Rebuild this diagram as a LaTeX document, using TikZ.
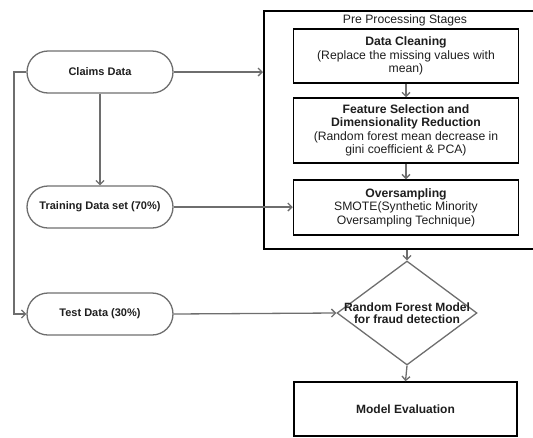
\documentclass[tikz,border=0pt]{standalone}
\usepackage{fontspec}
\setmainfont{Liberation Sans}
\usetikzlibrary{shapes.geometric,arrows.meta}
\definecolor{ln}{HTML}{6E6E6E}
\definecolor{tx}{HTML}{1E1E1E}
\begin{document}
\begin{tikzpicture}[x=1pt,y=-1pt,
  stad/.style={draw=ln, line width=1.3pt, rounded corners=21pt, minimum width=146pt, minimum height=42pt, inner sep=0pt, font=\fontsize{11}{12}\selectfont\bfseries, text=tx},
  pbox/.style={draw=black, line width=1.5pt, minimum width=225pt, inner sep=0pt, align=center, font=\fontsize{12.2}{13.5}\selectfont, text=tx},
  dia/.style={draw=ln, line width=1.3pt, diamond, minimum width=140pt, minimum height=104pt, inner sep=0pt},
  arr/.style={draw=ln, line width=1.3pt, -{Straight Barb[length=4pt,width=8pt,line width=1.3pt]}}]
\useasboundingbox (0,0) rectangle (533,437);
\clip (0,0) rectangle (533,437);
% outer pre-processing box (right side falls outside the picture)
\node[draw=black, line width=1.5pt, minimum width=286pt, minimum height=238pt, inner sep=0pt, anchor=north west] (pre) at (263,10) {};
\node[font=\fontsize{12.2}{13.5}\selectfont, text=tx, inner sep=0pt] (pretitle) at (405,20) {Pre Processing Stages};
% left column
\node[stad] (claims) at (100,72) {Claims Data};
\node[stad] (train) at (100,207) {Training Data set (70\%)};
\node[stad] (test) at (100,314) {Test Data (30\%)};
% boxes
\node[pbox, minimum height=54pt] (clean) at (406,56) {\textbf{Data Cleaning}\\(Replace the missing values with\\mean)};
\node[pbox, minimum height=65pt] (feat) at (406,130.5) {\textbf{Feature Selection and}\\\textbf{Dimensionality Reduction}\\(Random forest mean decrease in\\gini coefficient \& PCA)};
\node[pbox, minimum height=55pt] (over) at (406,207.5) {\textbf{Oversampling}\\SMOTE(Synthetic Minority\\Oversampling Technique)};
\node[dia] (rf) at (407,313) {};
\node[align=center, inner sep=0pt, font=\fontsize{12}{12}\selectfont\bfseries, text=tx] (rflabel) at (407,313) {Random Forest Model\\for fraud detection};
\node[pbox, minimum width=223pt, minimum height=54pt, font=\fontsize{12}{13.5}\selectfont\bfseries] (eval) at (405.5,409) {Model Evaluation};
% connectors
\coordinate (lft) at (14,72);
\draw[arr] (claims.east) -- (pre.west |- claims.east);
\draw[arr] (claims.south) -- (train.north);
\draw[arr] (train.east) -- (over.west |- train.east);
\draw[arr] (claims.west) -- (lft) |- (test.west);
\draw[arr] (test.east) -- (rf.west);
\draw[arr] (clean.south) -- (feat.north);
\draw[arr] (feat.south) -- (over.north);
\draw[arr] (pre.south -| rf.north) -- (rf.north);
\draw[arr] (rf.south) -- (eval.north);
\end{tikzpicture}
\end{document}
